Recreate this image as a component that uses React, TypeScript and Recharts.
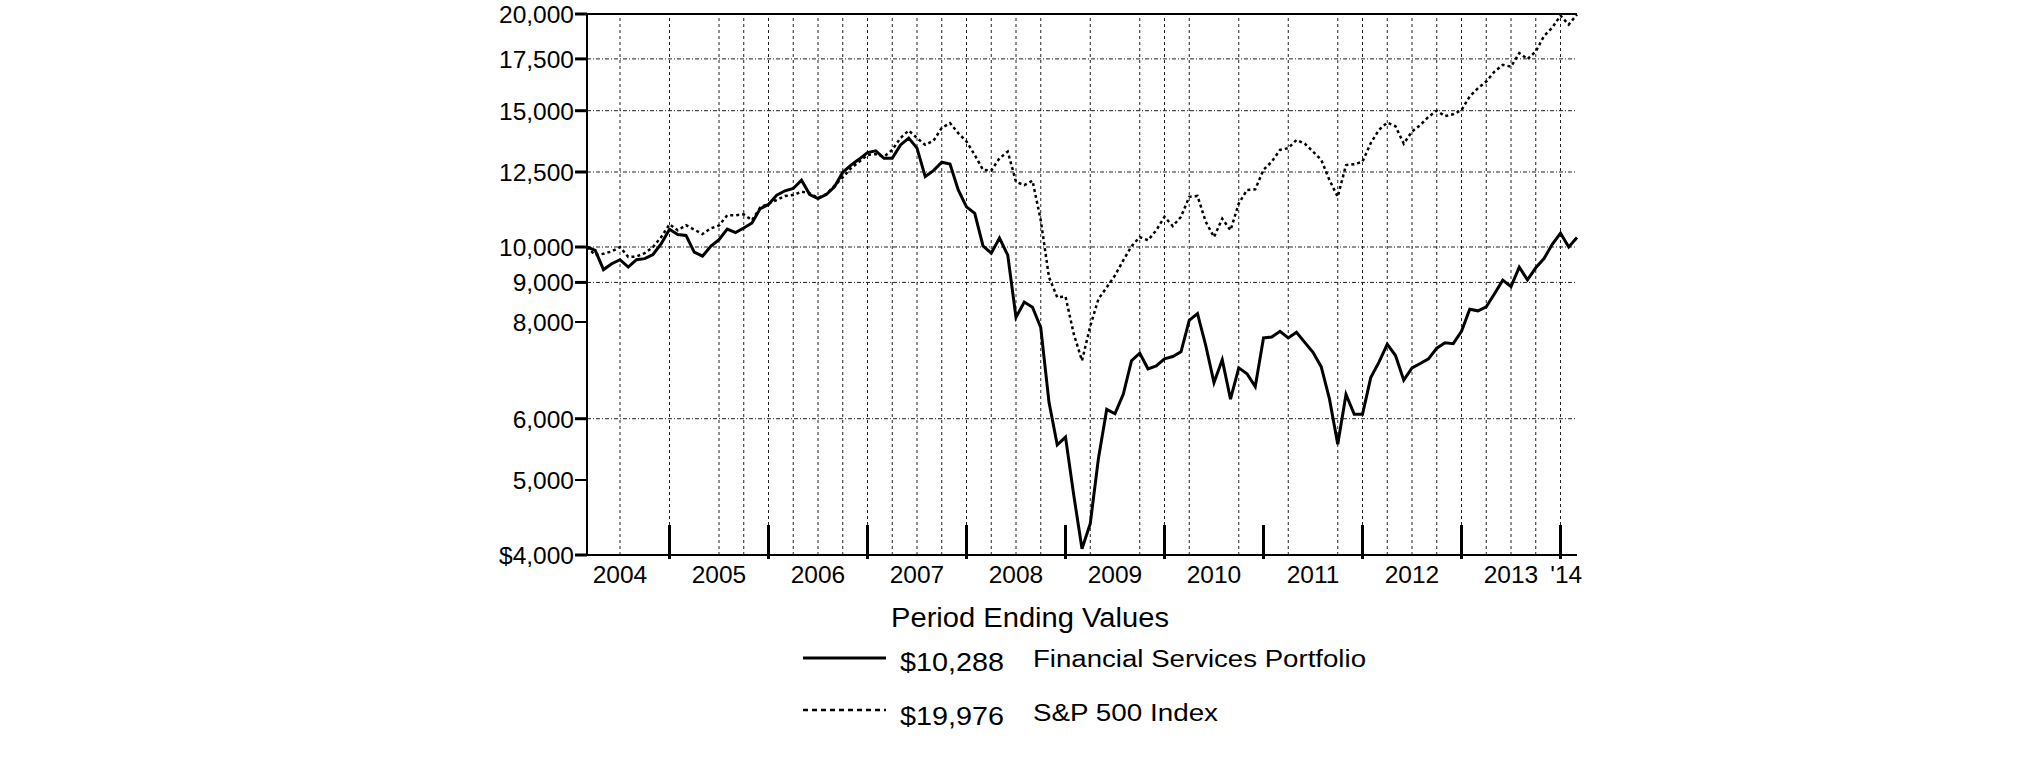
import React from 'react'
import { LineChart, Line, XAxis, YAxis, ReferenceLine } from 'recharts'

// month-end values, Feb 2004 .. Feb 2014 (index 0 = Feb 2004)
const PORTFOLIO = [
  10000, 9900, 9350, 9515, 9630, 9420, 9630, 9660, 9780, 10100, 10540, 10380,
  10350, 9850, 9730, 10020, 10220, 10550, 10440, 10580, 10740, 11210, 11350, 11670,
  11820, 11900, 12200, 11690, 11550, 11690, 11960, 12490, 12760, 12990, 13240, 13310,
  13020, 13020, 13550, 13830, 13420, 12330, 12550, 12870, 12800, 11850, 11270, 11050,
  10030, 9820, 10270, 9760, 8110, 8490, 8360, 7870, 6300, 5550, 5680, 4780,
  4075, 4390, 5340, 6170, 6090, 6450, 7130, 7290, 6960, 7020, 7170, 7220,
  7320, 8040, 8200, 7460, 6680, 7150, 6360, 6980, 6860, 6600, 7630, 7650,
  7780, 7630, 7760, 7530, 7310, 7000, 6360, 5560, 6450, 6080, 6080, 6780,
  7100, 7490, 7240, 6730, 6980, 7070, 7170, 7400, 7520, 7500, 7780, 8310,
  8270, 8370, 8700, 9060, 8890, 9420, 9070, 9400, 9660, 10080, 10420, 10000,
  10288
]

const SP500 = [
  10000, 9760, 9800, 9870, 10000, 9710, 9720, 9820, 10000, 10300, 10700, 10510,
  10670, 10530, 10390, 10570, 10660, 10990, 10990, 11020, 10830, 11250, 11380, 11500,
  11640, 11670, 11790, 11730, 11570, 11700, 12000, 12300, 12640, 12890, 13150, 13180,
  13080, 13350, 13830, 14140, 13830, 13550, 13720, 14250, 14460, 14030, 13690, 13150,
  12580, 12550, 13020, 13280, 12140, 12020, 12180, 10830, 9140, 8610, 8630, 7720,
  7130, 7900, 8570, 8870, 9190, 9610, 10020, 10300, 10200, 10510, 10940, 10640,
  10940, 11610, 11640, 10780, 10300, 10880, 10510, 11380, 11850, 11870, 12580, 12890,
  13350, 13420, 13750, 13600, 13280, 12960, 12200, 11610, 12760, 12790, 12890, 13620,
  14170, 14480, 14320, 13600, 14100, 14370, 14730, 15000, 14760, 14840, 15030, 15650,
  16040, 16360, 16850, 17190, 17100, 17800, 17490, 17890, 18730, 19210, 19900, 19380,
  19976
]

const MONTH_NAMES = ['Jan', 'Feb', 'Mar', 'Apr', 'May', 'Jun', 'Jul', 'Aug', 'Sep', 'Oct', 'Nov', 'Dec']
const MONTHS = PORTFOLIO.map((_, i) => {
  const k = i + 1
  return `${MONTH_NAMES[k % 12]} ${2004 + Math.floor(k / 12)}`
})

const Y_TICKS = [4000, 5000, 6000, 8000, 9000, 10000, 12500, 15000, 17500, 20000]
const H_GRID = [6000, 9000, 10000, 12500, 15000, 17500]
const V_GRID = [4, 10, 16, 19, 22, 25, 28, 31, 34, 37, 40, 43, 46, 49, 52, 55, 61, 67, 70, 73, 79, 85, 91, 94, 97, 100, 103, 106, 109, 112, 115, 118]
const YEAR_BOUNDS = [10, 22, 34, 46, 58, 70, 82, 94, 106, 118]
const YEAR_LABELS = ['2004', '2005', '2006', '2007', '2008', '2009', '2010', '2011', '2012', '2013', "'14"]
const YEAR_LABEL_POS = [4, 16, 28, 40, 52, 64, 76, 88, 100, 112, 118.7]

const data = MONTHS.map((label, i) => ({
  m: i,
  label,
  portfolio: PORTFOLIO[i],
  sp500: SP500[i]
}))

const FONT = '"Liberation Sans", Arial, sans-serif'

function YearTick(props: any) {
  const { x, y, payload } = props
  const v = payload.value
  if (YEAR_BOUNDS.includes(v)) {
    return <line x1={x} x2={x} y1={y - 30} y2={y + 4} stroke="#000" strokeWidth={3} />
  }
  const idx = YEAR_LABEL_POS.indexOf(v)
  return (
    <text x={x} y={y + 28} textAnchor="middle" fontSize={24.5} fontFamily={FONT} fill="#000">
      {YEAR_LABELS[idx]}
    </text>
  )
}

function ValueTick(props: any) {
  const { x, y, payload } = props
  const v = payload.value
  const label = v === 4000 ? '$4,000' : v.toLocaleString('en-US')
  const thick = H_GRID.includes(v) || v === 4000 || v === 20000
  return (
    <g>
      <line x1={x - 12} x2={x} y1={y} y2={y} stroke="#000" strokeWidth={thick ? 3 : 2} />
      <text x={x - 13} y={y} dy="0.36em" textAnchor="end" fontSize={24.5} fontFamily={FONT} fill="#000">
        {label}
      </text>
    </g>
  )
}

function LegendBlock() {
  return (
    <svg width={2025} height={761} style={{ position: 'absolute', left: 0, top: 0, pointerEvents: 'none' }}>
      <g fontFamily={FONT} fill="#000">
        <text x={891} y={627} fontSize={27} textLength={278} lengthAdjust="spacingAndGlyphs">
          Period Ending Values
        </text>
        <line x1={803} x2={886} y1={658} y2={658} stroke="#000" strokeWidth={3} />
        <text x={900} y={671} fontSize={26} textLength={104} lengthAdjust="spacingAndGlyphs">
          $10,288
        </text>
        <text x={1033} y={667} fontSize={23} textLength={333} lengthAdjust="spacingAndGlyphs">
          Financial Services Portfolio
        </text>
        <line x1={803} x2={886} y1={710} y2={710} stroke="#000" strokeWidth={2.5} strokeDasharray="5 4" />
        <text x={900} y={725} fontSize={26} textLength={104} lengthAdjust="spacingAndGlyphs">
          $19,976
        </text>
        <text x={1033} y={721} fontSize={23} textLength={185} lengthAdjust="spacingAndGlyphs">
          S&amp;P 500 Index
        </text>
      </g>
    </svg>
  )
}

export default function App() {
  return (
    <div style={{ position: 'absolute', left: 0, top: 0, width: 2025, height: 761, background: '#fff' }}>
      <LineChart
        width={2025}
        height={761}
        data={data}
        margin={{ top: 14, right: 448, bottom: 166, left: 507 }}
      >
        {V_GRID.map((m) => (
          <ReferenceLine key={`v${m}`} x={m} stroke="#222" strokeWidth={1} strokeDasharray="3 3" />
        ))}
        {H_GRID.map((v) => (
          <ReferenceLine key={`h${v}`} y={v} stroke="#222" strokeWidth={1} strokeDasharray="4 2 1 2" />
        ))}
        <ReferenceLine y={20000} stroke="#000" strokeWidth={2} />
        <XAxis
          dataKey="m"
          type="number"
          domain={[0, 120]}
          ticks={[...YEAR_BOUNDS, ...YEAR_LABEL_POS]}
          interval={0}
          height={40}
          tickSize={0}
          tickMargin={0}
          tickLine={false}
          axisLine={{ stroke: '#000', strokeWidth: 2 }}
          tick={<YearTick />}
        />
        <YAxis
          type="number"
          scale="log"
          domain={[4000, 20000]}
          allowDataOverflow
          ticks={Y_TICKS}
          interval={0}
          width={80}
          tickSize={0}
          tickMargin={0}
          tickLine={false}
          axisLine={{ stroke: '#000', strokeWidth: 2 }}
          tick={<ValueTick />}
        />
        <Line
          type="linear"
          dataKey="sp500"
          name="S&P 500 Index"
          stroke="#000"
          strokeWidth={2.5}
          strokeDasharray="3 3"
          dot={false}
          isAnimationActive={false}
        />
        <Line
          type="linear"
          dataKey="portfolio"
          name="Financial Services Portfolio"
          stroke="#000"
          strokeWidth={3}
          dot={false}
          isAnimationActive={false}
        />
      </LineChart>
      <LegendBlock />
    </div>
  )
}
